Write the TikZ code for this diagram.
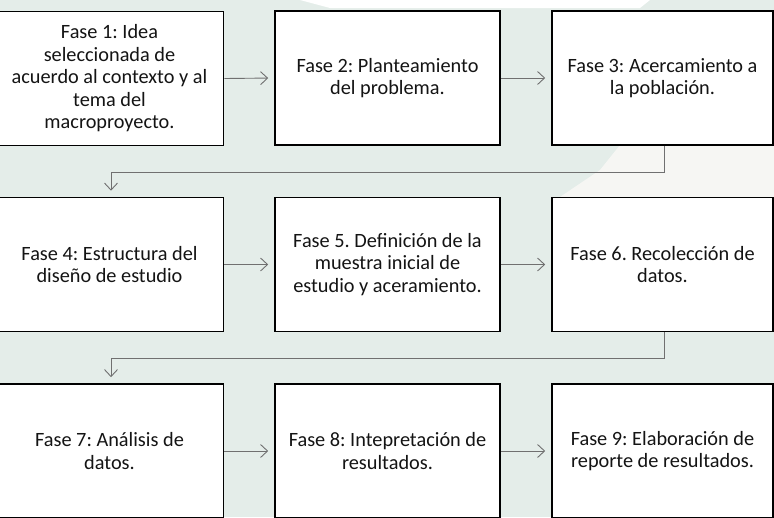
\documentclass[tikz,border=0pt]{standalone}
\usepackage{fontspec}
\setmainfont{Carlito}
\frenchspacing
\usetikzlibrary{arrows.meta}
\definecolor{bgmint}{HTML}{E4EDE9}
\definecolor{bgwhite}{HTML}{F6F6F3}
\definecolor{conncol}{HTML}{707070}
\definecolor{txtcol}{HTML}{141414}
\begin{document}
\begin{tikzpicture}[x=1pt,y=-1pt,
  stagebox/.style={draw=black, line width=1.6pt, fill=white, minimum width=225pt,
    minimum height=134pt, inner sep=0pt, align=center, text=txtcol,
    font=\frenchspacing\fontsize{20.3}{22.5}\selectfont},
  leftbox/.style={stagebox, minimum width=228pt},
  conn/.style={draw=conncol, line width=0.9pt, shorten >=6pt,
    -{Straight Barb[length=7pt,width=13pt,line width=0.9pt]}}]
\useasboundingbox (0,0) rectangle (774,517);
% background watermark
\fill[bgmint] (0,0) rectangle (774,517);
\fill[white] (300,0) -- (650,0) -- (640,8) -- (330,8) -- cycle;
\fill[bgwhite] (774,145) -- (620,145) -- (600,170) -- (560,197) -- (774,197) -- cycle;
% boxes
\node[leftbox] (b1) at (109.5,78.5) {Fase 1: Idea\\seleccionada de\\acuerdo al contexto y al\\tema del\\macroproyecto.};
\node[stagebox] (b2) at (387.5,78) {Fase 2: Planteamiento\\del problema.};
\node[stagebox, minimum width=221pt] (b3) at (662.5,78) {Fase 3: Acercamiento a\\la población.};
\node[leftbox] (b4) at (109.5,264.5) {Fase 4: Estructura del\\diseño de estudio};
\node[stagebox] (b5) at (387.5,264.5) {Fase 5. Definición de la\\muestra inicial de\\estudio y aceramiento.};
\node[stagebox, minimum width=221pt] (b6) at (662.5,264.5) {Fase 6. Recolección de\\datos.};
\node[leftbox] (b7) at (109.5,451) {Fase 7: Análisis de\\datos.};
\node[stagebox] (b8) at (387.5,451) {Fase 8: Intepretación de\\resultados.};
\node[stagebox, minimum width=221pt] (b9) at (662.5,451) {Fase 9: Elaboración de\\reporte de resultados.};
% connectors
\draw[conn] (b1.east) -- (b2.west);
\draw[conn] (b2.east) -- (b3.west);
\draw[conn] (b4.east) -- (b5.west);
\draw[conn] (b5.east) -- (b6.west);
\draw[conn] (b7.east) -- (b8.west);
\draw[conn] (b8.east) -- (b9.west);
\draw[conn] ([xshift=2pt]b3.south) -- ++(0,27) -| ([xshift=1.5pt]b4.north);
\draw[conn] ([xshift=2pt]b6.south) -- ++(0,26) -| ([xshift=1.5pt]b7.north);
\end{tikzpicture}
\end{document}
